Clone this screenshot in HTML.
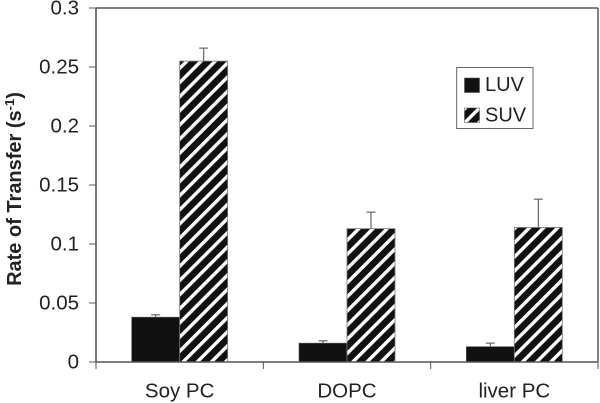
<!DOCTYPE html>
<html>
<head>
<meta charset="utf-8">
<style>
html,body{margin:0;padding:0;background:#fff;}
svg{display:block;font-family:"Liberation Sans",sans-serif;}
</style>
</head>
<body>
<svg id="chart" width="600" height="403" viewBox="0 0 600 403">
<defs>
<pattern id="stripes" width="10" height="10" patternUnits="userSpaceOnUse" patternTransform="rotate(-45) translate(0 3.7)">
<rect width="10" height="10" fill="#111"></rect>
<rect y="0" width="10" height="3.4" fill="#fff"></rect>
</pattern>
</defs>
<g id="plot"></g>
</svg>
<script>
const categories = ['Soy PC', 'DOPC', 'liver PC'];
const seriesNames = ['LUV', 'SUV'];
const luvValues = [0.038, 0.016, 0.013];
const suvValues = [0.255, 0.113, 0.114];
const luvErrorTops = [0.040, 0.018, 0.016];
const suvErrorTops = [0.266, 0.127, 0.138];
const yTicks = [0, 0.05, 0.1, 0.15, 0.2, 0.25, 0.3];
const yTickLabels = ['0', '0.05', '0.1', '0.15', '0.2', '0.25', '0.3'];
const yAxisMax = 0.3;

const NS = 'http://www.w3.org/2000/svg';
const plot = document.getElementById('plot');
const left = 96, right = 598, top_ = 8, bottom = 362;
const barW = 48;
function yScale(v){ return bottom - (v / yAxisMax) * (bottom - top_); }
function groupCenter(i){ return left + (i + 0.5) * (right - left) / categories.length; }
function make(tag, attrs, text){
  const el = document.createElementNS(NS, tag);
  for (const k in attrs) el.setAttribute(k, attrs[k]);
  if (text !== undefined) el.textContent = text;
  plot.appendChild(el);
  return el;
}
const axisColor = '#555';

categories.forEach(function(cat, i){
  const c = groupCenter(i);
  const yL = yScale(luvValues[i]);
  const yS = yScale(suvValues[i]);
  const yLe = yScale(luvErrorTops[i]);
  const ySe = yScale(suvErrorTops[i]);

  const e1 = make('line', {x1:c-barW/2, x2:c-barW/2, y1:yL, y2:yLe, stroke:'#666', 'stroke-width':1.2});
  
  
  const e2 = make('line', {x1:c-barW/2-4.5, x2:c-barW/2+4.5, y1:yLe, y2:yLe, stroke:'#666', 'stroke-width':1.2});
  
  
  const e3 = make('line', {x1:c+barW/2, x2:c+barW/2, y1:yS, y2:ySe, stroke:'#666', 'stroke-width':1.2});
  
  
  const e4 = make('line', {x1:c+barW/2-4.5, x2:c+barW/2+4.5, y1:ySe, y2:ySe, stroke:'#666', 'stroke-width':1.2});
  
  

  const b1 = make('rect', {x:c-barW, y:yL, width:barW, height:bottom-yL, fill:'#111', stroke:'#555', 'stroke-width':0.6});
  
  
  const b2 = make('rect', {x:c, y:yS, width:barW, height:bottom-yS, fill:'url(#stripes)', stroke:'#777', 'stroke-width':0.8});
  
  

  const lab = make('text', {x:c, y:397.5, 'text-anchor':'middle', 'font-size':20.5, fill:'#222'}, cat);
  
  
});

const frameTop = make('line', {x1:left, x2:right, y1:top_, y2:top_, stroke:'#333', 'stroke-width':1.2});


const frameRight = make('line', {x1:right, x2:right, y1:top_, y2:bottom, stroke:'#333', 'stroke-width':1.2});


const yAxis = make('line', {x1:left, x2:left, y1:top_, y2:bottom, stroke:axisColor, 'stroke-width':1.6});


const xAxis = make('line', {x1:left, x2:right, y1:bottom, y2:bottom, stroke:axisColor, 'stroke-width':1.4});



yTicks.forEach(function(t, i){
  const y = yScale(t);
  const tick = make('line', {x1:left-7, x2:left, y1:y, y2:y, stroke:axisColor, 'stroke-width':1});
  
  
  const lab = make('text', {x:79, y:y+6.5, 'text-anchor':'end', 'font-size':20.5, fill:'#222'}, yTickLabels[i]);
  
  
});
for (let i = 0; i <= categories.length; i++){
  const x = left + i * (right - left) / categories.length;
  const tick = make('line', {x1:x, x2:x, y1:bottom, y2:bottom+7, stroke:axisColor, 'stroke-width':1});
  
  
}

const title = make('text', {x:0, y:0, transform:'translate(21,189) rotate(-90)', 'text-anchor':'middle', 'font-size':20, 'font-weight':'bold', fill:'#222'});


title.appendChild(document.createTextNode('Rate of Transfer (s'));
const sup = document.createElementNS(NS, 'tspan');
sup.setAttribute('dy', '-7');
sup.setAttribute('font-size', '13');
sup.textContent = '-1';
title.appendChild(sup);
const close = document.createElementNS(NS, 'tspan');
close.setAttribute('dy', '7');
close.textContent = ')';
title.appendChild(close);

const legendBox = make('rect', {x:456.7, y:67.5, width:76.3, height:61, fill:'#fff', stroke:'#666', 'stroke-width':1});


const swatchFills = ['#111', 'url(#stripes)'];
const swatchY = [78, 108];
const labelY = [91, 121.7];
seriesNames.forEach(function(name, i){
  const sw = make('rect', {x:464.5, y:swatchY[i], width:15, height:14.5, fill:swatchFills[i], stroke:'#444', 'stroke-width':0.5});
  
  
  const lab = make('text', {x:485, y:labelY[i], 'font-size':20, fill:'#222'}, name);
  
  
});
</script>
</body>
</html>
